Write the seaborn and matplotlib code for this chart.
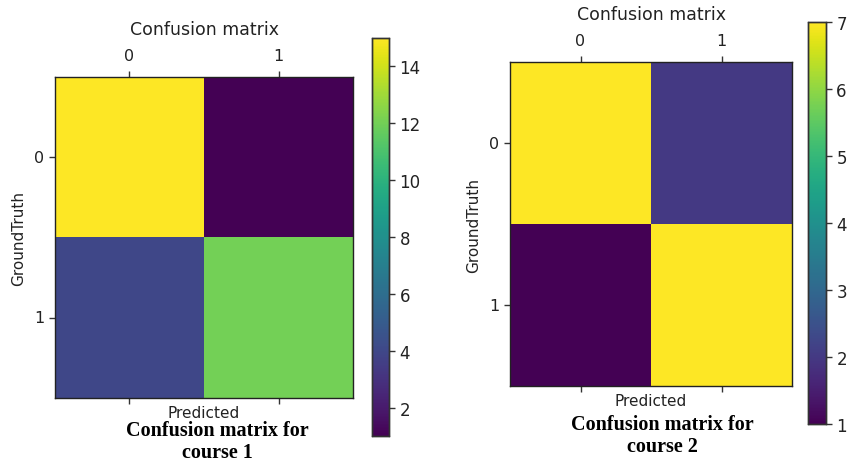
# Two confusion matrices (course 1 and course 2) drawn as viridis heatmaps.

import matplotlib
matplotlib.use("Agg")
import matplotlib.pyplot as plt
import numpy as np
import seaborn as sns

classes = ["0", "1"]
course1 = [[15, 1],
           [4, 12]]
course2 = [[7, 2],
           [1, 7]]
course1_ticks = [2, 4, 6, 8, 10, 12, 14]
course2_ticks = [1, 2, 3, 4, 5, 6, 7]

sns.set_style("white")
plt.rcParams['font.family'] = ['DejaVu Sans']


def draw_matrix(fig, cm, ax_rect, cbar_rect, cticks, title_pad):
    ax = fig.add_axes(ax_rect)
    cax = fig.add_axes(cbar_rect)
    sns.heatmap(np.array(cm), cmap="viridis", ax=ax, cbar_ax=cax,
                xticklabels=classes, yticklabels=classes, square=False,
                linewidths=0)
    ax.xaxis.tick_top()
    ax.tick_params(axis='x', top=True, bottom=True, labeltop=True,
                   labelbottom=False, length=4, width=1, color='#333333',
                   labelsize=11.5, pad=6, labelcolor='#222222')
    ax.tick_params(axis='y', left=True, length=4, width=1, color='#333333',
                   labelsize=11.5, rotation=0, labelcolor='#222222')
    for s in ax.spines.values():
        s.set_visible(True)
        s.set_color('#222222')
        s.set_linewidth(1)
    ax.set_title("Confusion matrix", fontsize=12.5, pad=title_pad,
                 color='#222222')
    ax.xaxis.set_label_position('bottom')
    ax.set_xlabel("Predicted", fontsize=11, labelpad=1, color='#222222')
    ax.set_ylabel("GroundTruth", fontsize=11, labelpad=6, color='#222222')
    cax.set_yticks(cticks)
    cax.tick_params(labelsize=12, length=4, width=1, color='#333333',
                    labelcolor='#222222')
    for s in cax.spines.values():
        s.set_visible(True)
        s.set_color('#333333')
        s.set_linewidth(1)
    return ax


fig = plt.figure(figsize=(8.5, 4.64), dpi=100)

draw_matrix(fig, course1, [0.0647, 0.140, 0.3506, 0.692],
            [0.4376, 0.058, 0.020, 0.858], course1_ticks, 10)
draw_matrix(fig, course2, [0.600, 0.166, 0.332, 0.698],
            [0.9506, 0.084, 0.021, 0.866], course2_ticks, 10)

cap = dict(ha='center', va='center', fontsize=14.5, fontweight='bold',
           family='Liberation Serif', color='black', linespacing=1.15)
fig.text(217 / 850, 1 - 442 / 464, "Confusion matrix for\ncourse 1", **cap)
fig.text(662 / 850, 1 - 436 / 464, "Confusion matrix for\ncourse 2", **cap)

fig.savefig("out.png", dpi=100)
